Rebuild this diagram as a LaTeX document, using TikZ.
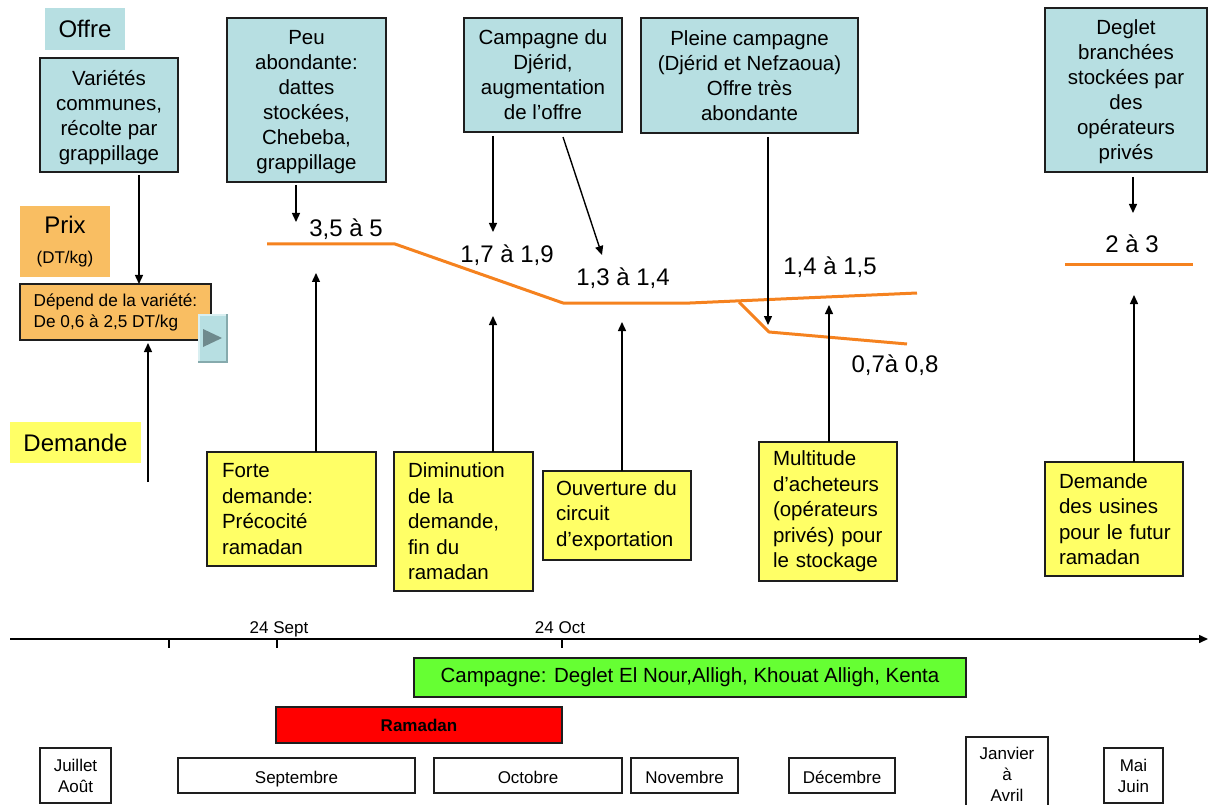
\documentclass[tikz,border=0pt]{standalone}
\usepackage{fontspec}
\setmainfont{Liberation Sans}
\usetikzlibrary{arrows.meta,calc}
\definecolor{offreblue}{HTML}{B7DFE2}
\definecolor{prixorange}{HTML}{F9BE62}
\definecolor{demyellow}{HTML}{FFFF66}
\definecolor{campgreen}{HTML}{66FF33}
\definecolor{priceline}{HTML}{F5821F}
\definecolor{edge}{HTML}{1E1E1E}
\definecolor{btnface}{HTML}{B7DFE2}
\definecolor{btndark}{HTML}{86AAAD}
\definecolor{btnlight}{HTML}{D9EFF1}
\definecolor{btntri}{HTML}{6F8A8D}

\begin{document}
% no hyphenation inside the boxes; long lines may run into the padding
\hyphenpenalty=10000
\exhyphenpenalty=10000
\hbadness=10000
\hfuzz=50pt
\begin{tikzpicture}[x=1pt,y=-1pt,
  every node/.style={inner sep=0pt, outer sep=0pt},
  bluebox/.style={draw=edge, line width=1.3pt, fill=offreblue, align=center,
    text depth=0pt, font=\fontsize{20.5}{25}\selectfont},
  yellowbox/.style={draw=edge, line width=1.3pt, fill=demyellow, align=left,
    inner xsep=14pt, font=\fontsize{20.5}{25.5}\selectfont},
  monthbox/.style={draw=edge, line width=1.1pt, fill=white, align=center,
    font=\fontsize{17}{21}\selectfont},
  onemonth/.style={monthbox, minimum height=35pt, text height=17pt, text depth=2pt},
  arr/.style={line width=1.4pt, -{Triangle[length=9pt,width=8pt]}},
  price/.style={font=\fontsize{24}{24}\selectfont, anchor=base},
  pline/.style={draw=priceline, line width=3pt, line join=round},
  datelabel/.style={font=\fontsize{17}{17}\selectfont, anchor=base}
]
\clip (0,0) rectangle (1208,805);

% ---------- row headings ----------
\node[fill=offreblue, minimum width=80pt, minimum height=42pt,
  font=\fontsize{24}{24}\selectfont] (offre) at (85,29) {Offre};
\node[fill=prixorange, minimum width=90pt, minimum height=71pt, align=center,
  font=\fontsize{24}{30}\selectfont] (prix) at (65,241.5)
  {Prix\\\fontsize{17}{20}\selectfont (DT/kg)};
\node[fill=demyellow, minimum width=131pt, minimum height=41pt,
  font=\fontsize{24}{24}\selectfont] (demande) at (75.5,442.5) {Demande};

% ---------- supply boxes ----------
\node[bluebox, minimum width=138pt, minimum height=114pt] (varietes) at (109,115)
  {Variétés\\communes,\\récolte par\\grappillage};
\node[bluebox, minimum width=159pt, minimum height=164pt] (peu) at (306.5,100)
  {Peu\\abondante:\\dattes\\stockées,\\Chebeba,\\grappillage};
\node[bluebox, minimum width=158pt, minimum height=114pt] (djerid) at (543,75)
  {Campagne du\\Djérid,\\augmentation\\de l’offre};
\node[bluebox, minimum width=217pt, minimum height=115pt] (pleine) at (749.5,75.5)
  {Pleine campagne\\(Djérid et Nefzaoua)\\Offre très\\abondante};
\node[bluebox, minimum width=162pt, minimum height=164pt] (deglet) at (1126,90)
  {Deglet\\branchées\\stockées par\\des\\opérateurs\\privés};

% ---------- price box ----------
\node[draw=edge, line width=1.3pt, fill=prixorange, minimum width=191pt,
  minimum height=56pt, align=left, font=\fontsize{17.2}{21}\selectfont]
  (depend) at (115.5,312)
  {Dépend de la variété:\\De 0,6 à 2,5 DT/kg};

% small navigation button
\fill[btndark] (198,314) rectangle (228,363);
\fill[btnlight] (198,314) rectangle (226,361);
\fill[btnface] (200,316) rectangle (226,361);
\fill[btntri] (203,329) -- (222,338) -- (203,347) -- cycle;

% ---------- demand boxes ----------
\node[yellowbox, text width=139pt, inner xsep=15pt, minimum height=114pt]
  (forte) at (291.5,509)
  {Forte\\demande:\\Précocité\\ramadan};
\node[yellowbox, text width=111pt, minimum height=139pt] (dimin) at (463.5,521.5)
  {Diminution\\de~la\\demande,\\fin~du\\ramadan};
\node[yellowbox, text width=122pt, inner xsep=13pt, minimum height=89pt]
  (ouvert) at (617,515.5)
  {Ouverture~du\\circuit\\d’exportation};
\node[yellowbox, text width=110pt, minimum height=139pt] (multi) at (828,511.5)
  {Multitude\\d’acheteurs\\(opérateurs\\privés)~pour\\le~stockage};
\node[yellowbox, text width=110pt, minimum height=114pt] (usines) at (1114,519)
  {Demande\\des~usines\\pour~le~futur\\ramadan};

% ---------- price curve ----------
\draw[pline] (267,244) -- (395,244) -- (563,303) -- (690,303) -- (917,293);
\draw[pline] (739,302) -- (769,332) -- (907,344);
\draw[pline] (1065,265) -- (1193,265);

\node[price] (p35) at (346,237) {3,5 à 5};
\node[price] (p17) at (507,263) {1,7 à 1,9};
\node[price] (p13) at (623,285) {1,3 à 1,4};
\node[price] (p14) at (830,275) {1,4 à 1,5};
\node[price] (p07) at (895,372) {0,7à 0,8};
\node[price] (p23) at (1132,253) {2 à 3};

% ---------- arrow ends ----------
\coordinate (xvar) at (139,0);
\coordinate (dtail) at (148,482);
\coordinate (tpeu) at (296,222);
\coordinate (tdj1) at (493,232);
\coordinate (sdj2) at (563,0);
\coordinate (tdj2) at (602,255);
\coordinate (tpl) at (768,325);
\coordinate (tdg) at (1133,213);
\coordinate (tfo) at (316,273);
\coordinate (tdi) at (493,316);
\coordinate (tou) at (622,322);
\coordinate (tmu) at (829,305);
\coordinate (tus) at (1134,295);

% supply arrows
\draw[arr] ($(varietes.south -| xvar)+(0,3)$) -- (depend.north -| xvar);
\draw[arr] ($(peu.south -| tpeu)+(0,3)$) -- (tpeu);
\draw[arr] ($(djerid.south -| tdj1)+(0,4)$) -- (tdj1);
\draw[arr] ($(djerid.south -| sdj2)+(0,5)$) -- (tdj2);
\draw[arr] ($(pleine.south -| tpl)+(0,4)$) -- (tpl);
\draw[arr] ($(deglet.south -| tdg)+(0,5)$) -- (tdg);

% demand arrows
\draw[arr] (dtail) -- ($(depend.south -| dtail)+(0,3)$);
\draw[arr] (forte.north -| tfo) -- (tfo);
\draw[arr] (dimin.north -| tdi) -- (tdi);
\draw[arr] (ouvert.north -| tou) -- (tou);
\draw[arr] (multi.north -| tmu) -- (tmu);
\draw[arr] (usines.north -| tus) -- (tus);

% ---------- time axis ----------
\coordinate (axL) at (10,639);
\coordinate (axR) at (1208,639);
\draw[line width=1.5pt, -{Triangle[length=9pt,width=8pt]}] (axL) -- (axR);
\foreach \tx in {169,277,562} \draw[line width=1.1pt] (\tx,639) -- (\tx,648);
\node[datelabel] (d24s) at (279,633) {24 Sept};
\node[datelabel] (d24o) at (560,633) {24 Oct};

\node[draw=edge, line width=1.3pt, fill=campgreen, minimum width=552pt,
  minimum height=39pt, font=\fontsize{20.5}{20.5}\selectfont] (campagne) at (690,677.5)
  {Campagne: Deglet El Nour,Alligh, Khouat Alligh, Kenta};
\node[draw=edge, line width=1.3pt, fill=red, minimum width=286pt,
  minimum height=36pt, font=\fontsize{17}{17}\selectfont\bfseries] (ramadan) at (419,725)
  {Ramadan};

% ---------- months ----------
\node[monthbox, minimum width=71pt, minimum height=55pt] (juil) at (75.5,775.5) {Juillet\\Août};
\node[onemonth, minimum width=237pt] (sept) at (296.5,775.5) {Septembre};
\node[onemonth, minimum width=188pt] (oct) at (528,775.5) {Octobre};
\node[onemonth, minimum width=107pt] (nov) at (684.5,775.5) {Novembre};
\node[onemonth, minimum width=106pt] (dec) at (842,775.5) {Décembre};
\node[monthbox, minimum width=82pt, minimum height=75pt] (janv) at (1007,774.5) {Janvier\\à\\Avril};
\node[monthbox, minimum width=59pt, minimum height=55pt] (mai) at (1133.5,775.5) {Mai\\Juin};
\end{tikzpicture}
\end{document}
